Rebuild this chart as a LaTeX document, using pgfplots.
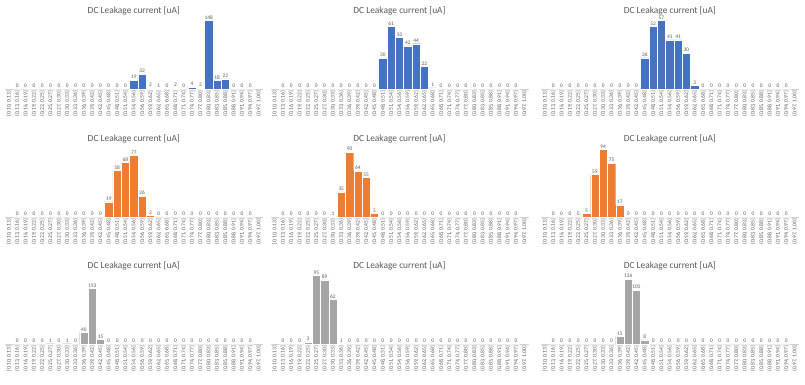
\documentclass[border=0pt]{standalone}
\usepackage{fontspec}
\setmainfont{Carlito}
\usepackage{pgfplots}
\pgfplotsset{compat=1.18}
\definecolor{xblue}{HTML}{4472C4}
\definecolor{xorange}{HTML}{ED7D31}
\definecolor{xgray}{HTML}{A5A5A5}
\definecolor{txt}{HTML}{595959}
\pgfplotsset{
  hist/.style={
    scale only axis, width=258pt, height=72pt,
    xmin=-0.5, xmax=30.5, ymin=0,
    axis x line=bottom, axis y line=none,
    axis line style={draw=black!18, line width=0.5pt, -},
    xtick={0,...,30},
    xticklabels={{[0.10, 0.13]},{(0.13, 0.16]},{(0.16, 0.19]},{(0.19, 0.22]},{(0.22, 0.25]},{(0.25, 0.27]},{(0.27, 0.30]},{(0.30, 0.33]},{(0.33, 0.36]},{(0.36, 0.39]},{(0.39, 0.42]},{(0.42, 0.45]},{(0.45, 0.48]},{(0.48, 0.51]},{(0.51, 0.54]},{(0.54, 0.56]},{(0.56, 0.59]},{(0.59, 0.62]},{(0.62, 0.65]},{(0.65, 0.68]},{(0.68, 0.71]},{(0.71, 0.74]},{(0.74, 0.77]},{(0.77, 0.80]},{(0.80, 0.83]},{(0.83, 0.85]},{(0.85, 0.88]},{(0.88, 0.91]},{(0.91, 0.94]},{(0.94, 0.97]},{(0.97, 1.00]}},
    xticklabel style={rotate=90, anchor=east, font=\fontsize{5.6}{6}\selectfont, text=txt, inner sep=1.5pt},
    major tick length=0pt,
    ybar, bar width=1, bar shift=0pt,
    nodes near coords,
    /pgf/number format/assume math mode=true,
    every node near coord/.append style={font=\fontsize{5.4}{6}\selectfont, text=txt, inner sep=1pt},
    title={DC Leakage current [uA]},
    title style={font=\fontsize{9.4}{11}\selectfont, text=txt, at={(0.5,1)}, anchor=center, yshift=0.5pt},
    enlargelimits=false, clip=false,
  },
  bl/.style={fill=xblue, draw=white, line width=0.4pt},
  or/.style={fill=xorange, draw=white, line width=0.4pt},
  gr/.style={fill=xgray, draw=white, line width=0.4pt},
}
\begin{document}
\begin{tikzpicture}
\useasboundingbox (0,0) rectangle (805pt,384pt);
% Row 1
\begin{axis}[hist, ymax=155, at={(4.8pt,295pt)}, anchor=south west]
\addplot[bl] coordinates {(1,0)(2,0)(3,0)(4,0)(5,0)(6,0)(7,0)(8,0)(9,0)(10,0)(11,0)(12,0)(13,0)(14,0)(15,19)(16,32)(17,2)(18,1)(19,0)(20,2)(21,0)(22,4)(23,2)(24,148)(25,18)(26,22)(27,0)(28,0)(29,0)};
\end{axis}
\begin{axis}[hist, ymax=70, at={(270.5pt,295pt)}, anchor=south west]
\addplot[bl] coordinates {(1,0)(2,0)(3,0)(4,0)(5,0)(6,0)(7,0)(8,0)(9,0)(10,0)(11,0)(12,0)(13,30)(14,61)(15,50)(16,42)(17,44)(18,22)(19,1)(20,0)(21,0)(22,0)(23,0)(24,0)(25,0)(26,0)(27,0)(28,0)(29,0)};
\end{axis}
\begin{axis}[hist, ymax=60, at={(540.8pt,295pt)}, anchor=south west]
\addplot[bl] coordinates {(1,0)(2,0)(3,0)(4,0)(5,0)(6,0)(7,0)(8,0)(9,0)(10,0)(11,0)(12,26)(13,52)(14,57)(15,41)(16,41)(17,30)(18,3)(19,0)(20,0)(21,0)(22,0)(23,0)(24,0)(25,0)(26,0)(27,0)(28,0)(29,0)};
\end{axis}
% Row 2
\begin{axis}[hist, ymax=90, at={(4.8pt,167pt)}, anchor=south west]
\addplot[or] coordinates {(1,0)(2,0)(3,0)(4,0)(5,0)(6,0)(7,0)(8,0)(9,0)(10,0)(11,0)(12,19)(13,58)(14,68)(15,77)(16,26)(17,2)(18,0)(19,0)(20,0)(21,0)(22,0)(23,0)(24,0)(25,0)(26,0)(27,0)(28,0)(29,0)};
\end{axis}
\begin{axis}[hist, ymax=100, at={(270.5pt,167pt)}, anchor=south west]
\addplot[or] coordinates {(1,0)(2,0)(3,0)(4,0)(5,0)(6,0)(7,1)(8,35)(9,90)(10,64)(11,55)(12,5)(13,0)(14,0)(15,0)(16,0)(17,0)(18,0)(19,0)(20,0)(21,0)(22,0)(23,0)(24,0)(25,0)(26,0)(27,0)(28,0)(29,0)};
\end{axis}
\begin{axis}[hist, ymax=100, at={(540.8pt,167pt)}, anchor=south west]
\addplot[or] coordinates {(1,0)(2,0)(3,0)(4,0)(5,5)(6,59)(7,94)(8,75)(9,17)(10,0)(11,0)(12,0)(13,0)(14,0)(15,0)(16,0)(17,0)(18,0)(19,0)(20,0)(21,0)(22,0)(23,0)(24,0)(25,0)(26,0)(27,0)(28,0)(29,0)};
\end{axis}
% Row 3
\begin{axis}[hist, ymax=250, at={(4.8pt,40pt)}, anchor=south west]
\addplot[gr] coordinates {(1,0)(2,0)(3,0)(4,0)(5,1)(6,0)(7,1)(8,0)(9,40)(10,193)(11,15)(12,0)(13,0)(14,0)(15,0)(16,0)(17,0)(18,0)(19,0)(20,0)(21,0)(22,0)(23,0)(24,0)(25,0)(26,0)(27,0)(28,0)(29,0)};
\end{axis}
\begin{axis}[hist, ymax=100, at={(270.5pt,40pt)}, anchor=south west]
\addplot[gr] coordinates {(1,0)(2,0)(3,0)(4,3)(5,95)(6,89)(7,62)(8,1)(9,0)(10,0)(11,0)(12,0)(13,0)(14,0)(15,0)(16,0)(17,0)(18,0)(19,0)(20,0)(21,0)(22,0)(23,0)(24,0)(25,0)(26,0)(27,0)(28,0)(29,0)};
\end{axis}
\begin{axis}[hist, ymax=140, at={(540.8pt,40pt)}, anchor=south west]
\addplot[gr] coordinates {(1,0)(2,0)(3,0)(4,0)(5,0)(6,0)(7,0)(8,0)(9,15)(10,126)(11,105)(12,8)(13,0)(14,0)(15,0)(16,0)(17,0)(18,0)(19,0)(20,0)(21,0)(22,0)(23,0)(24,0)(25,0)(26,0)(27,0)(28,0)(29,0)};
\end{axis}
\end{tikzpicture}
\end{document}
